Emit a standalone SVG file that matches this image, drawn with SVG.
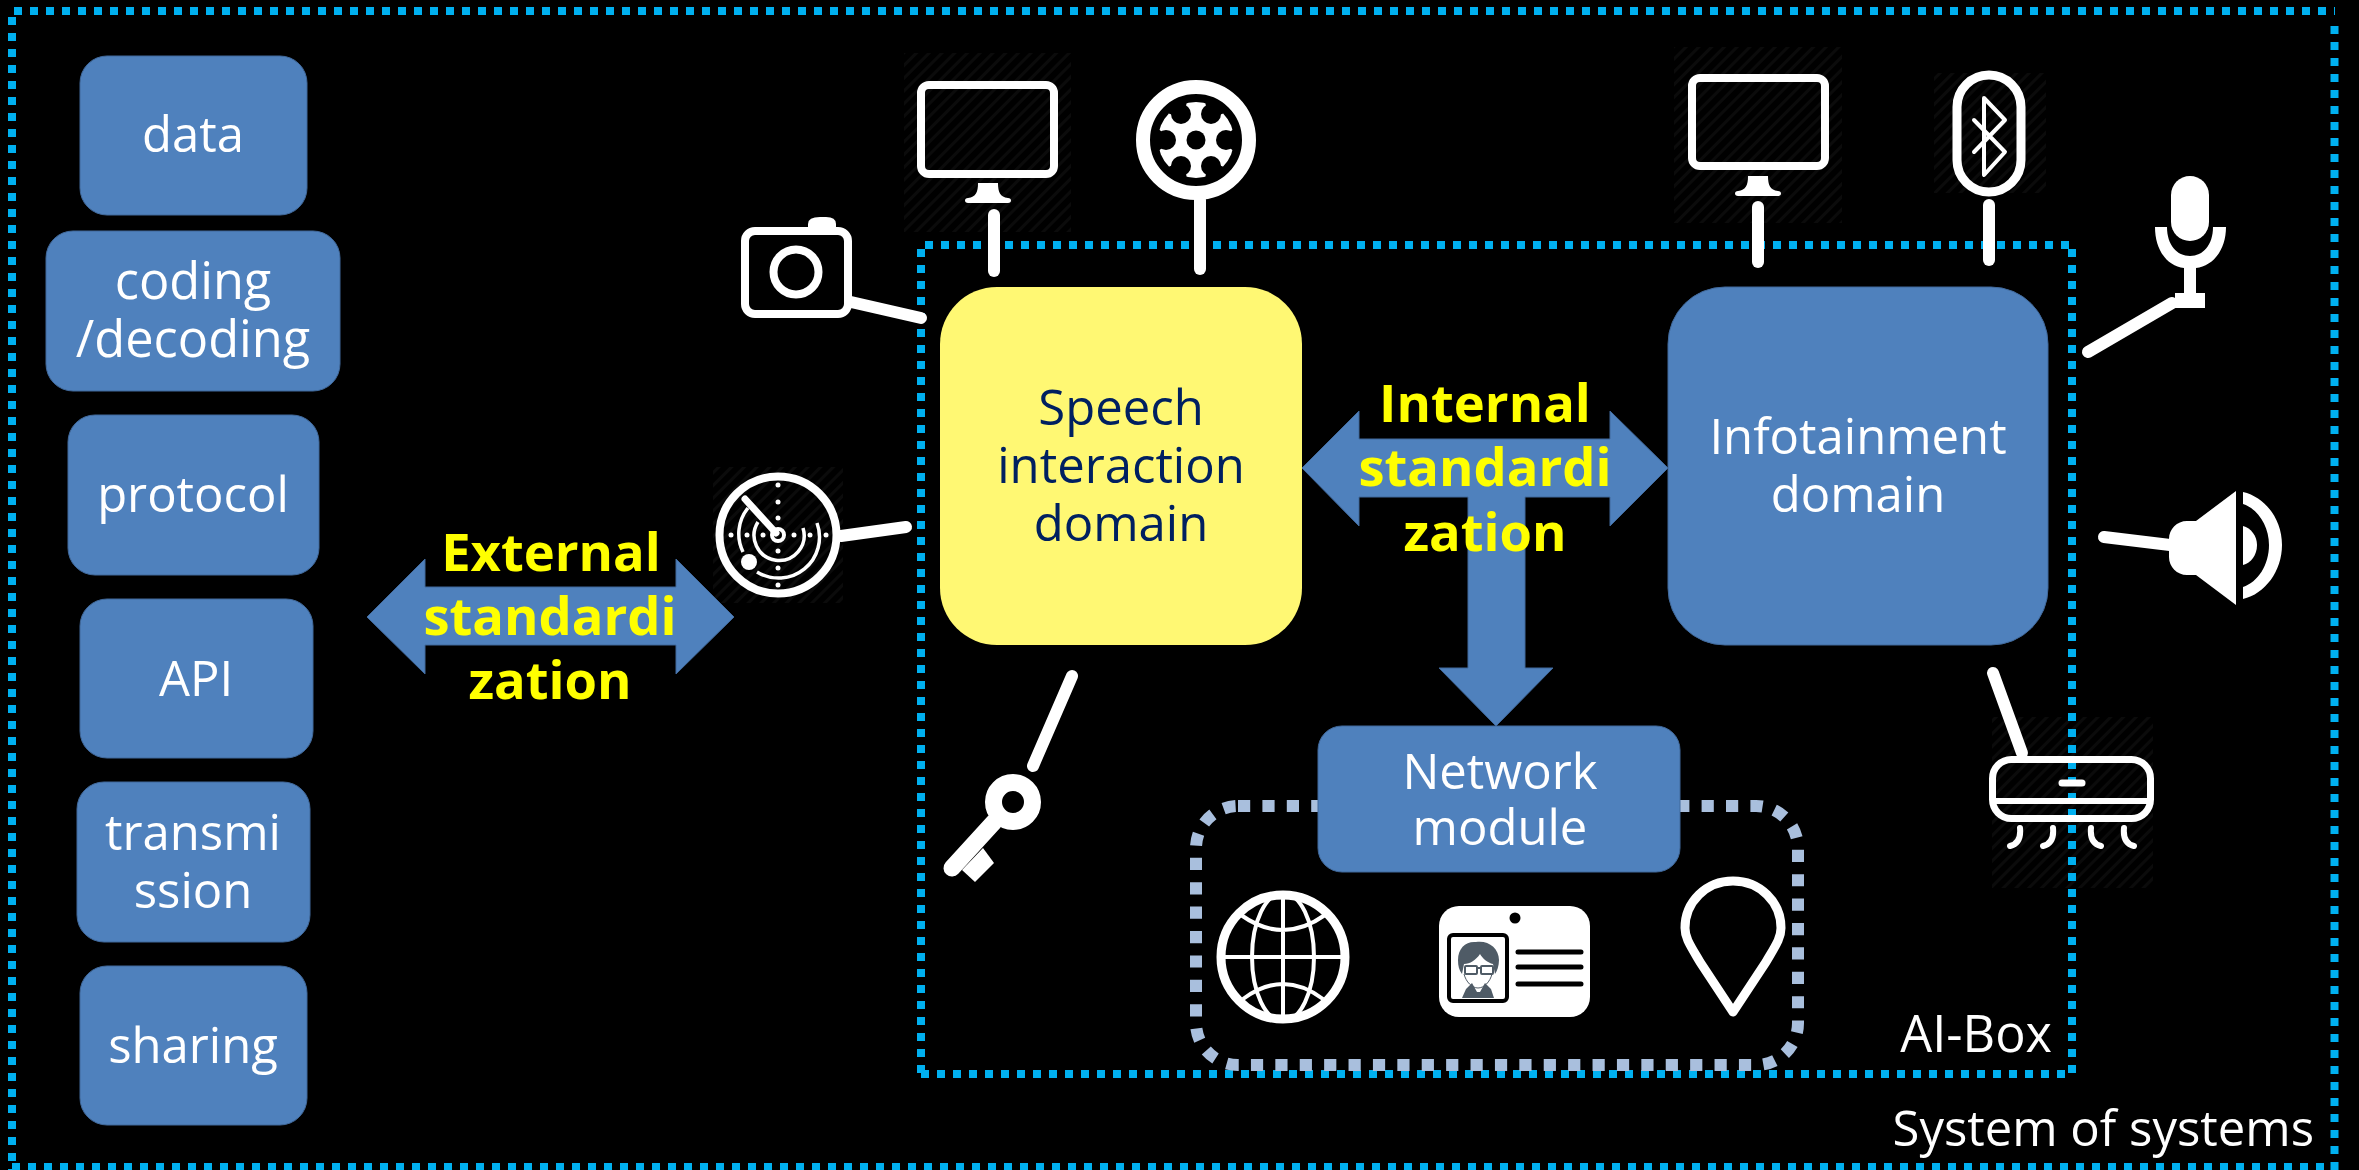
<svg xmlns="http://www.w3.org/2000/svg" width="2359" height="1170" viewBox="0 0 2359 1170">
<defs>
<pattern id="hatch" width="9" height="9" patternUnits="userSpaceOnUse" patternTransform="rotate(45)"><rect width="3" height="9" fill="#0b0b0b"/></pattern>
</defs>
<style>
.b{fill:#4F81BD;stroke:#41699b;stroke-width:1}
.t{font-family:"Open Sans","Noto Sans","Liberation Sans",sans-serif;font-size:49px;text-anchor:middle;fill:#fff}
.c{font-size:50.5px}
.y{font-family:"Open Sans","Noto Sans","Liberation Sans",sans-serif;font-size:52.5px;font-weight:700;text-anchor:middle;fill:#FFFF00}
.d{fill:none;stroke:#00B0F0;stroke-width:8;stroke-dasharray:8 8}
.l{fill:none;stroke:#fff;stroke-width:12;stroke-linecap:round}
.o{fill:none;stroke:#fff;stroke-width:8}
.w{fill:#fff}
.h{fill:url(#hatch)}
</style>
<rect width="2359" height="1170" fill="#000"/>
<g id="hatch-backgrounds">
<rect class="h" x="904" y="53" width="167" height="179"/><rect class="h" x="713" y="467" width="130" height="136"/><rect class="h" x="1674" y="47" width="168" height="176"/><rect class="h" x="1934" y="73" width="112" height="120"/><rect class="h" x="1992" y="717" width="161" height="171"/>
</g>
<g id="system-of-systems">
<path class="d" d="M14 11H2335"/><path class="d" d="M12 17V1170"/><path class="d" d="M2334.5 26V1170"/><path class="d" d="M12 1167H2335"/>
<text class="t" x="2314" y="1146" style="text-anchor:end">System of systems</text>
</g>
<g id="ai-box">
<path class="d" d="M925 245H2070"/><path class="d" d="M921 249V1078"/><path class="d" d="M2072 249V1074"/><path class="d" d="M921 1074H2068"/>
<text class="t" x="2052" y="1052" style="text-anchor:end;font-size:50.5px">AI-Box</text>
</g>
<g id="data"><rect class="b" x="80" y="56" width="227" height="159" rx="27"/><text class="t" x="193" y="152">data</text></g>
<g id="coding"><rect class="b" x="46" y="231" width="294" height="160" rx="27"/><text class="t c" x="193" y="299">coding</text><text class="t c" x="193" y="357">/decoding</text></g>
<g id="protocol"><rect class="b" x="68" y="415" width="251" height="160" rx="27"/><text class="t" x="193" y="512">protocol</text></g>
<g id="api"><rect class="b" x="80" y="599" width="233" height="159" rx="27"/><text class="t" x="196" y="696">API</text></g>
<g id="transmission"><rect class="b" x="77" y="782" width="233" height="160" rx="27"/><text class="t" x="193" y="850">transmi</text><text class="t" x="193" y="908">ssion</text></g>
<g id="sharing"><rect class="b" x="80" y="966" width="227" height="159" rx="27"/><text class="t" x="193" y="1063">sharing</text></g>
<g id="connectors">
<path class="b" d="M367 617L425 559V587H676V559L734 617L676 674V645H425V674Z"/>
<path class="b" d="M1302 468L1359 411V439H1610V411L1668 468L1610 526V497H1525V668H1553L1496 726L1439 668H1468V497H1359V526Z"/>
<path class="l" d="M994 215V271"/><path class="l" d="M1200 200V269"/><path class="l" d="M851 302L921 318"/><path class="l" d="M841 536L906 527"/><path class="l" d="M1072 676L1033 766"/>
<path class="l" d="M1758 207V262"/><path class="l" d="M1989 205V260"/><path class="l" d="M2172 303L2088 352"/><path class="l" d="M2104 537L2170 545"/><path class="l" d="M1993 673L2022 753"/>
</g>
<g id="speech-domain"><rect x="940" y="287" width="362" height="358" rx="57" fill="#FFF873"/><text class="t" x="1121" y="425" style="fill:#002060">Speech</text><text class="t" x="1121" y="483" style="fill:#002060">interaction</text><text class="t" x="1121" y="541" style="fill:#002060">domain</text></g>
<g id="infotainment-domain"><rect class="b" x="1668" y="287" width="380" height="358" rx="57"/><text class="t" x="1858" y="454">Infotainment</text><text class="t" x="1858" y="512">domain</text></g>
<g id="external-label"><text class="y" x="551" y="571">External</text><text class="y" x="550" y="635">standardi</text><text class="y" x="550" y="699">zation</text></g>
<g id="internal-label"><text class="y" x="1485" y="422">Internal</text><text class="y" x="1485" y="486">standardi</text><text class="y" x="1485" y="551">zation</text></g>
<g id="network-group"><rect x="1196" y="806" width="602" height="259" rx="42" fill="none" stroke="#A9BFDD" stroke-width="12" stroke-dasharray="12.2 12.2"/></g>
<g id="network-module"><rect class="b" x="1318" y="726" width="362" height="146" rx="24"/><text class="t" x="1500" y="789">Network</text><text class="t" x="1500" y="845">module</text></g>
<g id="monitor-1"><rect class="o" x="921" y="85" width="133" height="89" rx="8"/><path class="w" d="M978 183H998C998 192 1000 197 1008 198C1012 198 1012 203 1008 203H968C964 203 964 198 968 198C976 197 978 192 978 183Z"/></g>
<g id="wheel"><g transform="translate(1196 140)"><circle r="38" fill="#fff"/><g fill="#000"><circle cx="30" cy="0" r="10"/><circle cx="-30" cy="0" r="10"/><circle cx="15" cy="-26" r="10"/><circle cx="-15" cy="-26" r="10"/><circle cx="15" cy="26" r="10"/><circle cx="-15" cy="26" r="10"/><circle cx="43" cy="0" r="12"/><circle cx="-43" cy="0" r="12"/><circle cx="21.5" cy="-37.2" r="12"/><circle cx="-21.5" cy="-37.2" r="12"/><circle cx="21.5" cy="37.2" r="12"/><circle cx="-21.5" cy="37.2" r="12"/><circle r="9.5"/></g></g><circle cx="1196" cy="140" r="53" fill="none" stroke="#fff" stroke-width="14"/></g>
<g id="camera"><rect class="o" x="745" y="231" width="103" height="83" rx="10"/><path class="w" d="M808 228V224Q808 217 820 217H826Q836 217 836 224V228Z"/><circle class="o" cx="796" cy="272" r="22.5"/></g>
<g id="radar"><circle cx="778" cy="535" r="58.5" fill="none" stroke="#fff" stroke-width="8"/><g fill="#fff"><circle cx="778" cy="485" r="2.5"/><circle cx="778" cy="502" r="2.5"/><circle cx="778" cy="518" r="2.5"/><circle cx="778" cy="551" r="2.5"/><circle cx="778" cy="568" r="2.5"/><circle cx="778" cy="585" r="2.5"/><circle cx="731" cy="535" r="2.5"/><circle cx="747" cy="535" r="2.5"/><circle cx="763" cy="535" r="2.5"/><circle cx="794" cy="535" r="2.5"/><circle cx="810" cy="535" r="2.5"/><circle cx="826" cy="535" r="2.5"/><circle cx="749" cy="562" r="8"/></g><g fill="none" stroke="#fff"><circle cx="778" cy="535" r="6" stroke-width="4"/><path d="M776 533L745 499" stroke-width="7" stroke-linecap="round"/><path d="M758 522A25 25 0 1 0 803 528" stroke-width="3.5"/><path d="M748 508A41 41 0 0 0 743 552" stroke-width="3.5"/><path d="M757 572A41 41 0 0 0 817 523" stroke-width="3.5"/></g></g>
<g id="key"><circle cx="1013" cy="802" r="19.5" fill="none" stroke="#fff" stroke-width="17"/><path d="M994 822L952 868" stroke="#fff" stroke-width="17" stroke-linecap="round"/><path class="w" d="M983 848L994 863L975 882L962 870Z"/></g>
<g id="monitor-2"><rect class="o" x="1692" y="78" width="133" height="88" rx="8"/><path class="w" d="M1748 176H1768C1768 185 1770 190 1778 191C1782 191 1782 196 1778 196H1738C1734 196 1734 191 1738 191C1746 190 1748 185 1748 176Z"/></g>
<g id="bluetooth"><rect x="1957" y="75" width="64" height="117" rx="32" fill="none" stroke="#fff" stroke-width="9"/><path d="M1974 120L2005 152L1984 175V98L2005 120L1974 152" fill="none" stroke="#fff" stroke-width="4" stroke-linecap="round" stroke-linejoin="round"/></g>
<g id="microphone"><rect class="w" x="2171" y="176" width="38" height="65" rx="19"/><path class="w" d="M2155 227H2167C2167 245 2177 256 2190 256C2203 256 2213 245 2213 227H2226C2226 250 2213 266 2196 268V293H2205V308H2175V293H2184V268C2167 266 2155 250 2155 227Z"/></g>
<g id="speaker"><path class="w" d="M2236 491V605L2196 575H2187C2177 575 2169 567 2169 557V539C2169 529 2177 521 2187 521H2196Z"/><path class="w" d="M2243 526C2251 528 2257 536 2257 545C2257 555 2251 563 2243 565Z"/><path class="w" d="M2243 492C2265 497 2282 519 2282 545C2282 571 2265 594 2243 599V587C2258 582 2269 565 2269 545C2269 526 2258 509 2243 504Z"/></g>
<g id="air-conditioner"><rect x="1992.5" y="759.5" width="158" height="59" rx="19" fill="none" stroke="#fff" stroke-width="7"/><path d="M1992 801H2151" stroke="#fff" stroke-width="6"/><path d="M2062 783H2082" stroke="#fff" stroke-width="7" stroke-linecap="round"/><path d="M2020 828C2021 838 2018 844 2010 846M2053 828C2054 838 2051 844 2043 846M2091 828C2090 838 2093 844 2101 846M2124 828C2123 838 2126 844 2134 846" fill="none" stroke="#fff" stroke-width="6" stroke-linecap="round"/></g>
<g id="globe"><circle cx="1283" cy="957" r="62" fill="none" stroke="#fff" stroke-width="9"/><ellipse cx="1283" cy="957" rx="31" ry="64" fill="none" stroke="#fff" stroke-width="4"/><path d="M1283 893V1021M1221 957H1345M1241 915Q1283 945 1325 915M1243 999Q1283 969 1323 999" fill="none" stroke="#fff" stroke-width="4"/></g>
<g id="id-card"><rect class="w" x="1439" y="906" width="151" height="111" rx="20"/><circle cx="1515" cy="918" r="5.5" fill="#000"/><rect x="1449" y="935" width="58" height="66" rx="4" fill="#fff" stroke="#000" stroke-width="4"/><path d="M1518 952H1581M1518 967H1581M1518 984H1581" stroke="#000" stroke-width="5" stroke-linecap="round"/><path fill="#4F5B66" d="M1458 960C1458 948 1466 941 1476 942C1488 940 1499 948 1499 960C1499 966 1497 971 1495 974L1493 964C1488 963 1482 958 1480 954C1476 960 1470 964 1464 964L1462 974C1459 970 1458 966 1458 960Z"/><path d="M1464 974C1466 982 1472 988 1478 988C1484 988 1490 982 1492 974" fill="none" stroke="#4F5B66" stroke-width="1"/><path d="M1462 998L1466 989L1472 983L1477 992H1480L1485 983L1491 989L1494 998Z" fill="#4F5B66"/><g fill="none" stroke="#4F5B66" stroke-width="2"><rect x="1465" y="966" width="12" height="8" rx="1"/><rect x="1481" y="966" width="12" height="8" rx="1"/><path d="M1477 968H1481"/></g></g>
<g id="location"><path d="M1733 1012L1700 962C1690 945 1685 938 1685 928C1685 902 1706 881 1733 881C1760 881 1781 902 1781 928C1781 938 1776 945 1766 962Z" fill="none" stroke="#fff" stroke-width="9" stroke-linejoin="round"/></g>
</svg>
